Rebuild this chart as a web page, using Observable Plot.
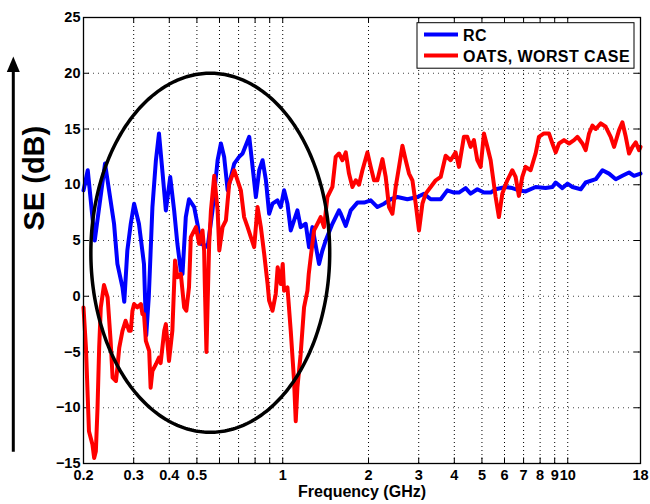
<!DOCTYPE html>
<html>
<head>
<meta charset="utf-8">
<script src="https://cdn.jsdelivr.net/npm/d3@7"></script>
<script src="https://cdn.jsdelivr.net/npm/@observablehq/plot@0.6"></script>
<style>
  html, body { margin: 0; padding: 0; background: #fff; }
  #chart { width: 650px; height: 504px; }
</style>
</head>
<body>
<div id="chart"></div>
<script>
// ---- Data ----
const rcFreq = [0.200,0.207,0.219,0.238,0.256,0.263,0.274,0.278,0.285,0.293,0.301,0.313,0.326,0.332,0.339,0.349,0.359,0.368,0.379,0.389,0.403,0.416,0.427,0.439,0.445,0.457,0.469,0.489,0.502,0.516,0.530,0.545,0.567,0.591,0.607,0.623,0.641,0.658,0.676,0.703,0.723,0.763,0.784,0.805,0.827,0.850,0.873,0.896,0.921,0.958,0.984,1.011,1.039,1.067,1.126,1.156,1.204,1.237,1.271,1.341,1.378,1.415,1.494,1.576,1.598,1.664,1.732,1.828,1.929,2.036,2.149,2.267,2.393,2.526,2.738,2.969,3.131,3.305,3.583,3.780,3.987,4.152,4.382,4.563,4.817,5.082,5.364,5.585,6.053,6.390,6.739,7.114,7.714,8.363,8.834,9.073,9.578,9.976,10.39,11.11,11.56,12.54,13.24,13.96,14.74,15.55,16.41,17.08,18.0];
const rcSE = [9.5,11.3,5.0,11.9,6.5,2.9,0.8,-0.5,4.1,6.5,8.3,6.5,2.9,-3.5,0.0,8.0,12.2,14.6,11.0,7.7,10.7,7.7,4.7,2.3,2.0,7.1,8.7,8.0,6.5,4.7,4.6,4.4,7.7,12.2,13.7,12.5,9.5,10.7,11.9,12.5,12.8,14.3,11.6,8.9,11.3,12.2,10.4,7.4,8.3,8.6,8.0,9.5,8.3,5.9,7.7,6.2,6.5,4.4,6.2,2.9,4.1,5.0,6.5,7.7,7.4,6.3,7.7,8.4,8.4,8.6,8.0,8.3,8.7,8.9,8.7,8.9,9.2,8.7,8.7,9.5,9.3,9.3,9.7,9.2,9.6,9.3,9.3,9.6,9.8,9.7,9.5,9.4,9.8,9.7,9.8,10.2,9.7,10.1,9.8,9.6,10.2,10.5,11.3,11.0,10.5,10.8,11.1,10.8,11.0];

const oatsFreq = [0.200,0.204,0.207,0.209,0.215,0.218,0.221,0.224,0.227,0.230,0.236,0.243,0.249,0.253,0.260,0.263,0.267,0.274,0.281,0.289,0.293,0.297,0.301,0.309,0.318,0.322,0.326,0.331,0.340,0.344,0.349,0.359,0.368,0.373,0.384,0.389,0.399,0.410,0.419,0.427,0.439,0.451,0.459,0.469,0.476,0.496,0.509,0.523,0.530,0.533,0.540,0.546,0.552,0.560,0.575,0.591,0.599,0.615,0.632,0.649,0.676,0.694,0.713,0.732,0.753,0.773,0.794,0.816,0.838,0.861,0.885,0.896,0.921,0.945,0.960,0.984,1.000,1.011,1.039,1.067,1.096,1.111,1.126,1.156,1.188,1.221,1.234,1.254,1.288,1.324,1.359,1.396,1.435,1.494,1.534,1.576,1.620,1.664,1.708,1.756,1.804,1.852,1.904,1.982,2.036,2.091,2.149,2.238,2.298,2.360,2.426,2.491,2.559,2.630,2.701,2.774,2.851,2.928,3.007,3.091,3.174,3.305,3.442,3.583,3.729,3.882,4.042,4.152,4.322,4.442,4.563,4.686,4.817,4.948,5.082,5.223,5.364,5.585,5.735,5.894,6.137,6.390,6.562,6.739,6.927,7.114,7.409,7.714,7.923,8.249,8.590,8.834,9.073,9.318,9.702,10.11,10.52,10.81,11.26,11.56,11.88,12.21,12.54,13.06,13.59,14.15,14.54,15.14,15.55,15.98,16.41,16.87,17.32,17.79,18.0];
const oatsSE = [-1.0,-4.6,-9.1,-12.1,-13.3,-14.5,-13.9,-10.0,-4.6,-1.0,1.0,-0.1,-4.0,-7.3,-7.6,-6.4,-4.6,-3.1,-2.2,-3.1,-3.1,-1.3,-0.7,-1.0,-0.7,-1.6,-1.6,-4.0,-4.9,-8.2,-6.7,-6.1,-5.5,-6.0,-3.1,-2.5,-5.8,-3.1,3.2,1.7,2.0,-1.0,-1.3,0.8,5.3,6.2,4.7,5.9,4.1,1.0,-5.0,0.0,4.7,7.7,10.8,7.7,4.1,6.2,6.8,10.1,11.3,10.4,9.5,7.1,6.2,5.3,4.4,8.0,6.2,3.8,1.1,-0.4,-1.3,0.2,2.6,1.1,2.9,0.5,0.8,-3.1,-7.6,-11.2,-8.2,-5.2,-1.0,0.5,2.0,3.5,5.9,6.5,7.1,6.2,8.9,9.8,12.5,12.8,12.2,12.9,11.0,9.8,10.4,10.0,11.3,12.9,11.6,10.4,10.4,12.3,10.7,8.0,7.4,9.8,11.6,13.5,12.2,11.0,10.4,8.3,5.9,8.3,9.2,9.8,10.4,10.7,12.6,12.2,12.9,11.6,14.3,14.3,13.4,14.0,12.2,11.6,14.6,13.4,12.2,8.9,7.1,9.2,10.4,11.3,10.7,9.0,10.7,11.6,11.3,12.8,14.3,14.6,14.6,13.7,12.9,13.7,14.0,13.7,14.0,14.3,13.7,13.1,14.6,15.3,15.0,15.5,15.2,14.3,13.4,14.9,15.6,14.3,12.8,13.4,13.8,13.1,13.4];

const seriesNames = ["RC", "OATS, WORST CASE"];
const seriesColors = ["#0000ff", "#ff0000"];

const xLabelTicks = [0.2,0.3,0.4,0.5,1,2,3,4,5,6,7,8,9,10,18];
const xGridTicks = [0.3,0.4,0.5,0.6,0.7,0.8,0.9,1,2,3,4,5,6,7,8,9,10];
const yTicks = [-15,-10,-5,0,5,10,15,20,25];
const yGridTicks = [-10,-5,0,5,10,15,20];

const xDomain = [0.2, 18];
const yDomain = [-15, 25];

// highlighted region (ellipse, in log-frequency / dB space)
const ellipseCenterFreq = 0.557;
const ellipseCenterSE = 3.9;
const ellipseHalfWidthDecades = 0.419;
const ellipseHalfHeightSE = 16.1;

const yLabel = "SE (dB)";
const xLabel = "Frequency (GHz)";

// ---- Build tables ----
const rc = rcFreq.map((f, i) => ({f, v: rcSE[i]}));
const oats = oatsFreq.map((f, i) => ({f, v: oatsSE[i]}));
const ellipse = d3.range(0, 361).map(a => {
  const t = a * Math.PI / 180;
  return {
    f: ellipseCenterFreq * Math.pow(10, ellipseHalfWidthDecades * Math.cos(t)),
    v: ellipseCenterSE + ellipseHalfHeightSE * Math.sin(t)
  };
});

const font = "'Liberation Sans', Arial, Helvetica, sans-serif";
const tickLenX = 0.5;                   // in dB
const tickLenF = 1.05;                  // ratio in frequency
const fmtMinus = d => (d < 0 ? "\u2212" + Math.abs(d) : String(d));

const chart = Plot.plot({
  width: 650,
  height: 504,
  marginLeft: 83,
  marginRight: 10,
  marginTop: 17,
  marginBottom: 41,
  style: {fontFamily: font, background: "#fff", color: "#000"},
  x: {type: "log", domain: xDomain, axis: null},
  y: {domain: yDomain, axis: null},
  marks: [
    // grid
    Plot.ruleX(xGridTicks, {y1: yDomain[0], y2: yDomain[1], stroke: "#000", strokeWidth: 1, strokeDasharray: "1,3"}),
    Plot.ruleY(yGridTicks, {x1: xDomain[0], x2: xDomain[1], stroke: "#444", strokeWidth: 1, strokeDasharray: "1,4"}),
    // inward ticks
    Plot.ruleX(xGridTicks, {y1: yDomain[0], y2: yDomain[0] + tickLenX, stroke: "#000", strokeWidth: 1}),
    Plot.ruleX(xGridTicks, {y1: yDomain[1] - tickLenX, y2: yDomain[1], stroke: "#000", strokeWidth: 1}),
    Plot.ruleY(yGridTicks, {x1: xDomain[0], x2: xDomain[0] * tickLenF, stroke: "#000", strokeWidth: 1}),
    Plot.ruleY(yGridTicks, {x1: xDomain[1] / tickLenF, x2: xDomain[1], stroke: "#000", strokeWidth: 1}),
    // series
    Plot.line(rc, {x: "f", y: "v", stroke: seriesColors[0], strokeWidth: 4, strokeLinejoin: "round"}),
    Plot.line(oats, {x: "f", y: "v", stroke: seriesColors[1], strokeWidth: 4, strokeLinejoin: "round"}),
    Plot.line(ellipse, {x: "f", y: "v", stroke: "#000", strokeWidth: 3.5}),
    Plot.frame({stroke: "#000", strokeWidth: 1.3}),
    // tick labels
    Plot.text(xLabelTicks, {x: d => d, frameAnchor: "bottom", dy: 16.5, text: d => String(d), fontSize: 14.5, fontWeight: "bold", fill: "#000"}),
    Plot.text(yTicks, {y: d => d, frameAnchor: "left", dx: -3, textAnchor: "end", text: fmtMinus, fontSize: 14.5, fontWeight: "bold", fill: "#000"}),
    // axis titles
    Plot.text([xLabel], {frameAnchor: "bottom", dy: 33, fontSize: 16, fontWeight: "bold", fill: "#000"}),
    Plot.text([yLabel], {frameAnchor: "left", dx: -49, dy: -10, rotate: -90, fontSize: 29, fontWeight: "bold", fill: "#000"})
  ]
});

document.getElementById("chart").appendChild(chart);

// ---- annotations: upward arrow and legend box ----
const svg = d3.select(chart);
const ax = 13.3;
svg.append("line").attr("x1", ax).attr("x2", ax).attr("y1", 451.7).attr("y2", 68)
  .attr("stroke", "#000").attr("stroke-width", 3);
svg.append("path").attr("d", `M${ax},56.5L${ax - 6.5},72L${ax + 6.5},72Z`).attr("fill", "#000");

const lg = svg.append("g").attr("font-family", font).attr("font-weight", "bold").attr("font-size", 16)
  .attr("text-anchor", "start");
lg.append("rect").attr("x", 417).attr("y", 22.7).attr("width", 217).attr("height", 45.5)
  .attr("fill", "#fff").attr("stroke", "#000").attr("stroke-width", 1);
seriesNames.forEach((name, i) => {
  const yy = 34.5 + i * 21;
  lg.append("line").attr("x1", 424).attr("x2", 458).attr("y1", yy).attr("y2", yy)
    .attr("stroke", seriesColors[i]).attr("stroke-width", 4);
  lg.append("text").attr("x", 463).attr("y", yy + 6).attr("fill", "#000")
    .attr("text-anchor", "start").style("letter-spacing", "0.4px").text(name);
});
</script>
</body>
</html>
